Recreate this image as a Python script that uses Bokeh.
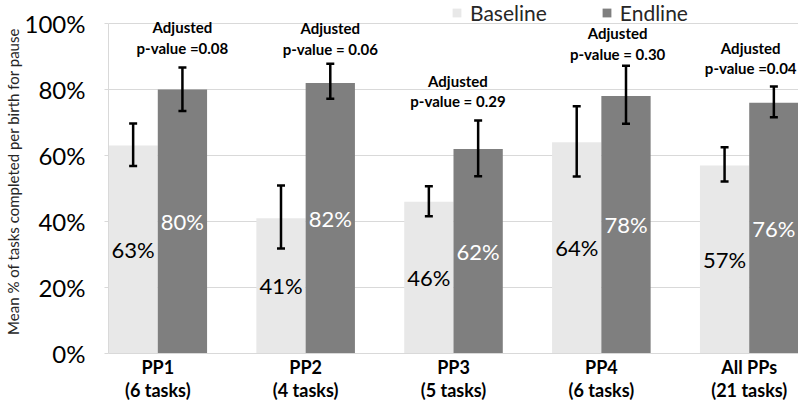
import numpy as np
from bokeh.plotting import figure
from bokeh.models import (ColumnDataSource, FixedTicker, Whisker, TeeHead,
                          Legend, LegendItem, Range1d, Span)
from bokeh.core.properties import value
from bokeh.embed import file_html
from bokeh.resources import INLINE

# ---------------- data ----------------
groups = ["PP1", "PP2", "PP3", "PP4", "All PPs"]
tasks = ["(6 tasks)", "(4 tasks)", "(5 tasks)", "(6 tasks)", "(21 tasks)"]
baseline = [63, 41, 46, 64, 57]
endline = [80, 82, 62, 78, 76]
base_lo = [56.8, 31.8, 41.6, 53.6, 52.1]
base_hi = [69.7, 50.9, 50.7, 74.9, 62.5]
end_lo = [73.5, 77.2, 53.7, 69.6, 71.6]
end_hi = [86.7, 87.8, 70.6, 87.2, 80.9]
pvalues = ["p-value =0.08", "p-value = 0.06", "p-value = 0.29",
           "p-value = 0.30", "p-value =0.04"]
y_ticks = [0, 20, 40, 60, 80, 100]
y_title = "Mean % of tasks completed per birth for pause"

# ---------------- layout constants ----------------
ann_dx = [1 / 6, 1 / 6, 0.03, 0.11, 0.01]   # p-value note offset (group units)
ann_y = [98.8, 98.5, 82.7, 97.0, 92.7]      # p-value note first line (axis units)
ann_gap = 6.2
cat_y1, cat_y2 = -4.0, -11.0                 # category label lines (axis units)
title_pad = "\u00a0" * 10                    # shifts the y title up to match

FONT = "Lato"
BAR_W = 1 / 3
idx = np.arange(len(groups))

src = ColumnDataSource(dict(
    xb=idx - BAR_W / 2,
    xe=idx + BAR_W / 2,
    xc=idx,
    base=baseline,
    end=endline,
    base_mid=np.array(baseline) / 2,
    end_mid=np.array(endline) / 2,
    base_lab=[f"{v}%" for v in baseline],
    end_lab=[f"{v}%" for v in endline],
    blo=base_lo, bhi=base_hi, elo=end_lo, ehi=end_hi,
    ax=idx + np.array(ann_dx),
    ay1=ann_y,
    ay2=np.array(ann_y) - ann_gap,
    adj=["Adjusted"] * len(groups),
    pv=pvalues,
    g=groups, t=tasks,
    gy=[cat_y1] * len(groups), ty=[cat_y2] * len(groups),
))

p = figure(width=798, height=400,
           x_range=Range1d(-BAR_W, len(groups) - 1 + BAR_W),
           y_range=Range1d(-14.24, 106.97),
           x_axis_location=None,
           output_backend="svg", toolbar_location=None,
           min_border_left=108, min_border_right=0,
           min_border_top=0, min_border_bottom=0)
p.outline_line_color = None
p.background_fill_color = "white"

# bars
rb = p.vbar(x="xb", top="base", width=BAR_W, source=src,
            fill_color="#e8e8e8", line_color=None)
re_ = p.vbar(x="xe", top="end", width=BAR_W, source=src,
             fill_color="#7f7f7f", line_color=None)

# category axis line
p.add_layout(Span(location=0, dimension="width", line_color="#d9d9d9",
                  line_width=1))

# value labels
p.text(x="xb", y="base_mid", text="base_lab", source=src,
       text_align="center", text_baseline="middle",
       text_font=value(FONT), text_font_size="22px", text_color="black")
p.text(x="xe", y="end_mid", text="end_lab", source=src,
       text_align="center", text_baseline="middle",
       text_font=value(FONT), text_font_size="22px", text_color="white")

# error bars
for base, lo, hi in (("xb", "blo", "bhi"), ("xe", "elo", "ehi")):
    w = Whisker(source=src, base=base, lower=lo, upper=hi,
                line_width=2.5, line_color="black", level="annotation",
                upper_head=TeeHead(size=8, line_width=2.5, line_color="black"),
                lower_head=TeeHead(size=8, line_width=2.5, line_color="black"))
    p.add_layout(w)

# p-value annotations
for ycol, tcol in (("ay1", "adj"), ("ay2", "pv")):
    p.text(x="ax", y=ycol, text=tcol, source=src,
           text_align="center", text_baseline="middle",
           text_font=value(FONT), text_font_size="15px",
           text_font_style="bold", text_color="black")

# category labels
for ycol, tcol in (("gy", "g"), ("ty", "t")):
    p.text(x="xc", y=ycol, text=tcol, source=src,
           text_align="center", text_baseline="middle",
           text_font=value(FONT), text_font_size="18px",
           text_font_style="bold", text_color="black")

# grid
p.xgrid.visible = False
p.ygrid.grid_line_color = "#d9d9d9"
p.ygrid.grid_line_width = 1
p.ygrid.bounds = (0, 100)

# y axis
ya = p.yaxis[0]
ya.ticker = FixedTicker(ticks=y_ticks)
ya.major_label_overrides = {t: f"{t}%" for t in y_ticks}
ya.bounds = (0, 100)
ya.axis_line_color = "#d9d9d9"
ya.major_tick_line_color = "#d9d9d9"
ya.major_tick_out = 4
ya.major_tick_in = 0
ya.minor_tick_line_color = None
ya.major_label_standoff = 19
ya.major_label_text_font = FONT
ya.major_label_text_font_size = "24px"
ya.major_label_text_color = "black"
ya.axis_label = title_pad + y_title
ya.axis_label_text_font = FONT
ya.axis_label_text_font_size = "15px"
ya.axis_label_text_font_style = "normal"
ya.axis_label_text_color = "#262626"
ya.axis_label_standoff = 0

# legend
legend = Legend(items=[LegendItem(label="Baseline", renderers=[rb]),
                       LegendItem(label="Endline", renderers=[re_])],
                orientation="horizontal", location=(343, 375),
                background_fill_alpha=0, border_line_color=None,
                padding=0, margin=0, spacing=54, label_standoff=8,
                glyph_width=11, glyph_height=11,
                label_text_font=FONT, label_text_font_size="21px",
                label_text_color="#262626")
p.add_layout(legend)

open("out.html", "w").write(file_html(p, INLINE))
